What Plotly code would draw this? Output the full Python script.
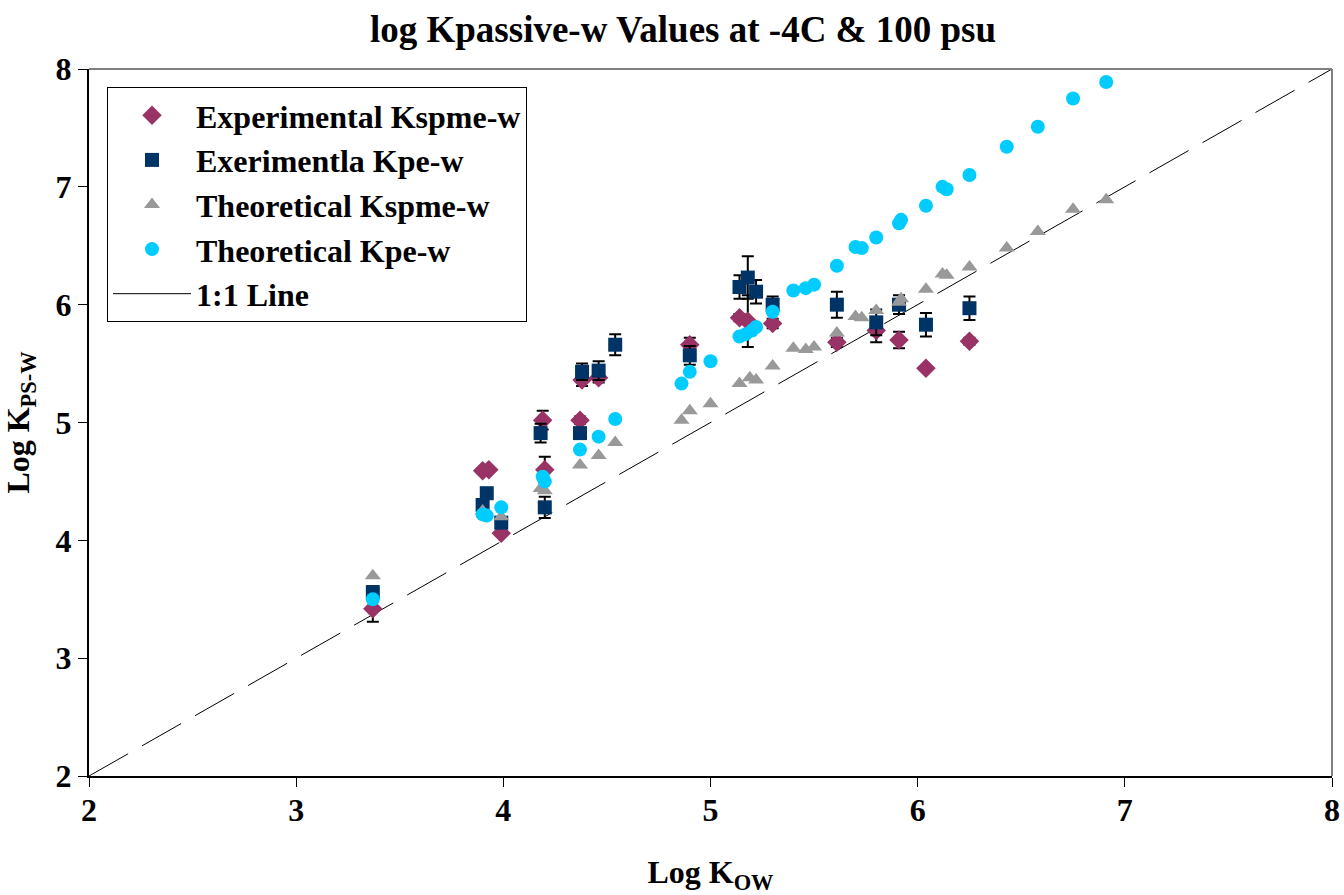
import plotly.graph_objects as go

# Experimental Kspme-w (log Kow, log K, error)
exp_spme_x = [3.37, 3.90, 3.93, 3.99, 4.19, 4.20, 4.37, 4.38, 4.46, 4.90, 5.14, 5.18, 5.30, 5.61, 5.80, 5.91, 6.04, 6.25]
exp_spme_y = [3.42, 4.59, 4.60, 4.06, 5.02, 4.60, 5.02, 5.36, 5.38, 5.66, 5.89, 5.86, 5.84, 5.68, 5.78, 5.70, 5.46, 5.69]
exp_spme_err = [0.11, 0.02, 0.02, 0.02, 0.08, 0.11, 0.03, 0.05, 0.04, 0.06, 0.03, 0.22, 0.04, 0.04, 0.10, 0.07, 0.02, 0.03]

# Experimental Kpe-w
exp_pe_x = [3.37, 3.90, 3.92, 3.99, 4.20, 4.18, 4.37, 4.38, 4.46, 4.54, 4.90, 5.14, 5.18, 5.22, 5.30, 5.61, 5.80, 5.91, 6.04, 6.25]
exp_pe_y = [3.56, 4.30, 4.40, 4.15, 4.28, 4.91, 4.91, 5.43, 5.44, 5.66, 5.57, 6.15, 6.23, 6.11, 6.00, 6.00, 5.85, 6.00, 5.83, 5.97]
exp_pe_err = [0.05, 0.03, 0.03, 0.04, 0.09, 0.08, 0.04, 0.07, 0.08, 0.09, 0.08, 0.10, 0.18, 0.10, 0.07, 0.11, 0.11, 0.08, 0.10, 0.10]

# Theoretical Kspme-w
th_spme_x = [3.37, 3.90, 3.99, 4.18, 4.20, 4.37, 4.46, 4.54, 4.86, 4.90, 5.00, 5.14, 5.19, 5.22, 5.30, 5.40,
             5.46, 5.50, 5.61, 5.70, 5.73, 5.80, 5.91, 5.92, 6.04, 6.12, 6.14, 6.25, 6.43, 6.58, 6.75, 6.91]
th_spme_y = [3.70, 4.25, 4.20, 4.44, 4.42, 4.64, 4.72, 4.83, 5.02, 5.10, 5.16, 5.33, 5.38, 5.36, 5.48, 5.63,
             5.62, 5.64, 5.76, 5.90, 5.89, 5.95, 6.02, 6.05, 6.13, 6.26, 6.25, 6.32, 6.48, 6.62, 6.81, 6.89]

# Theoretical Kpe-w
th_pe_x = [3.37, 3.90, 3.92, 3.99, 4.19, 4.20, 4.37, 4.46, 4.54, 4.86, 4.90, 5.00, 5.14, 5.17, 5.20, 5.22,
           5.30, 5.40, 5.46, 5.50, 5.61, 5.70, 5.73, 5.80, 5.91, 5.92, 6.04, 6.12, 6.14, 6.25, 6.43, 6.58,
           6.75, 6.91]
th_pe_y = [3.50, 4.22, 4.21, 4.28, 4.54, 4.50, 4.77, 4.88, 5.03, 5.33, 5.43, 5.52, 5.73, 5.75, 5.78, 5.81,
           5.94, 6.12, 6.14, 6.17, 6.33, 6.49, 6.48, 6.57, 6.69, 6.72, 6.84, 7.00, 6.98, 7.10, 7.34, 7.51,
           7.75, 7.89]

# 1:1 reference line
line_x = [2, 8]
line_y = [2, 8]

FONT = "Liberation Serif"
MSIZE = 14

fig = go.Figure()

# dashed 1:1 line in the plot; its legend entry is a plain solid stroke
fig.add_trace(go.Scatter(
    x=line_x, y=line_y, mode="lines", showlegend=False, hoverinfo="skip",
    line=dict(color="black", width=1, dash="45px,16px"),
))
fig.add_trace(go.Scatter(
    x=[None], y=[None], mode="lines", name="1:1 Line", legendrank=5,
    line=dict(color="black", width=1),
))
fig.add_trace(go.Scatter(
    x=exp_spme_x, y=exp_spme_y, mode="markers", name="Experimental Kspme-w", legendrank=1,
    marker=dict(symbol="diamond", size=MSIZE + 1, color="#993366"),
    error_y=dict(type="data", array=exp_spme_err, color="black", thickness=2, width=6),
))
fig.add_trace(go.Scatter(
    x=exp_pe_x, y=exp_pe_y, mode="markers", name="Exerimentla Kpe-w", legendrank=2,
    marker=dict(symbol="square", size=MSIZE, color="#003366"),
    error_y=dict(type="data", array=exp_pe_err, color="black", thickness=2, width=6),
))
fig.add_trace(go.Scatter(
    x=th_spme_x, y=th_spme_y, mode="markers", name="Theoretical Kspme-w", legendrank=3,
    marker=dict(symbol="triangle-up", size=MSIZE, color="#999999"),
))
fig.add_trace(go.Scatter(
    x=th_pe_x, y=th_pe_y, mode="markers", name="Theoretical Kpe-w", legendrank=4,
    marker=dict(symbol="circle", size=MSIZE, color="#00CCFF"),
))

# grey frame on the top and right edges of the plot area
fig.add_shape(type="line", xref="paper", yref="paper", x0=0, x1=1, y0=1, y1=1,
              line=dict(color="#808080", width=2))
fig.add_shape(type="line", xref="paper", yref="paper", x0=1, x1=1, y0=0, y1=1,
              line=dict(color="#808080", width=2))

axis_common = dict(
    range=[2, 8], dtick=1, tick0=2, showgrid=False, zeroline=False,
    showline=True, linecolor="black", linewidth=2, automargin=False,
    ticks="outside", ticklen=9, tickwidth=1, tickcolor="black",
    tickfont=dict(family=FONT, size=32, color="black", weight="bold"),
)

fig.update_layout(
    width=1344, height=895,
    margin=dict(l=89, r=12, t=69, b=119),
    paper_bgcolor="white", plot_bgcolor="white",
    title=dict(
        text="<b>log Kpassive-w Values at -4C &amp; 100 psu</b>",
        x=683 / 1344, xanchor="center", y=1 - 29 / 895, yanchor="middle",
        font=dict(family=FONT, size=37, color="black"),
    ),
    xaxis=dict(axis_common, ticklabelstandoff=-4, title=dict(
        text="<b>Log K<sub>OW</sub></b>", standoff=39,
        font=dict(family=FONT, size=32, color="black"))),
    yaxis=dict(axis_common, title=dict(
        text="<b>Log K<sub>PS-W</sub></b>", standoff=22,
        font=dict(family=FONT, size=32, color="black"))),
    legend=dict(
        x=(107 - 89) / 1243, y=(776 - 87) / 707, xanchor="left", yanchor="top",
        bgcolor="white", bordercolor="black", borderwidth=1,
        font=dict(family=FONT, size=32, color="black", weight="bold"),
        tracegroupgap=0, itemwidth=78,
    ),
    showlegend=True,
)

fig.write_html("out.html")
